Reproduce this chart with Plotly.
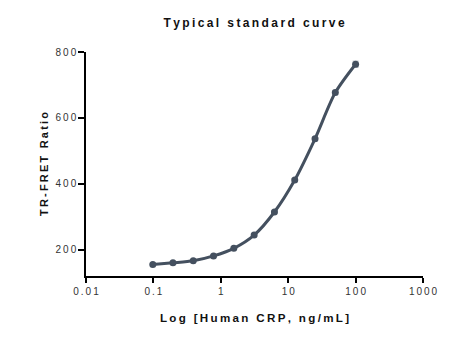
import plotly.graph_objects as go

# Human CRP standards (2-fold dilution series) and measured TR-FRET ratios
crp_ng_ml = [0.098, 0.195, 0.39, 0.78, 1.56, 3.125, 6.25, 12.5, 25, 50, 100]
tr_fret_ratio = [156, 161, 167, 182, 205, 245, 315, 412, 537, 677, 763]
ratio_sd = [2, 2, 2, 3, 3, 3, 4, 4, 5, 6, 9]

x_tick_vals = [0.01, 0.1, 1, 10, 100, 1000]
x_tick_text = ["0.01", "0.1", "1", "10", "100", "1000"]
y_tick_vals = [200, 400, 600, 800]

SP = "\u2009"


def spaced(s):
    return SP.join(list(s))


line_color = "#44505f"
font_family = "Liberation Sans, Arial, sans-serif"

fig = go.Figure()
fig.add_trace(go.Scatter(
    x=crp_ng_ml,
    y=tr_fret_ratio,
    mode="lines+markers",
    line=dict(color=line_color, width=3, shape="spline", smoothing=0.8),
    marker=dict(color=line_color, size=7),
    error_y=dict(type="data", array=ratio_sd, color="#c8ccd2", thickness=1.5, width=3),
    showlegend=False,
))

fig.update_layout(
    width=473,
    height=341,
    margin=dict(l=86, r=50, t=52, b=65),
    paper_bgcolor="white",
    plot_bgcolor="white",
    font=dict(family=font_family, color="#222222"),
    title=dict(
        text=spaced("Typical standard curve"),
        x=254 / 473,
        xanchor="center",
        y=1 - 23 / 341,
        yanchor="middle",
        font=dict(size=12, color="#111111", weight="bold"),
    ),
)

fig.update_xaxes(
    type="log",
    range=[-2, 3],
    tickvals=x_tick_vals,
    ticktext=[spaced(t) for t in x_tick_text],
    tickfont=dict(size=10, color="#333333"),
    ticks="outside",
    ticklen=5,
    tickwidth=1.5,
    tickcolor="black",
    showline=True,
    linecolor="black",
    linewidth=1.5,
    showgrid=False,
    zeroline=False,
    title=dict(text=spaced("Log [Human CRP, ng/mL]"),
               font=dict(size=11.6, color="#111111", weight="bold"),
               standoff=18),
)

fig.update_yaxes(
    range=[121, 800],
    tickvals=y_tick_vals,
    ticktext=[spaced(str(v)) for v in y_tick_vals],
    tickfont=dict(size=10, color="#333333"),
    ticks="outside",
    ticklen=6,
    tickwidth=1.5,
    tickcolor="black",
    showline=True,
    linecolor="black",
    linewidth=1.5,
    showgrid=False,
    zeroline=False,
    title=dict(text=spaced("TR-FRET Ratio"),
               font=dict(size=11, color="#111111", weight="bold"),
               standoff=5),
)

fig.write_html("out.html")
